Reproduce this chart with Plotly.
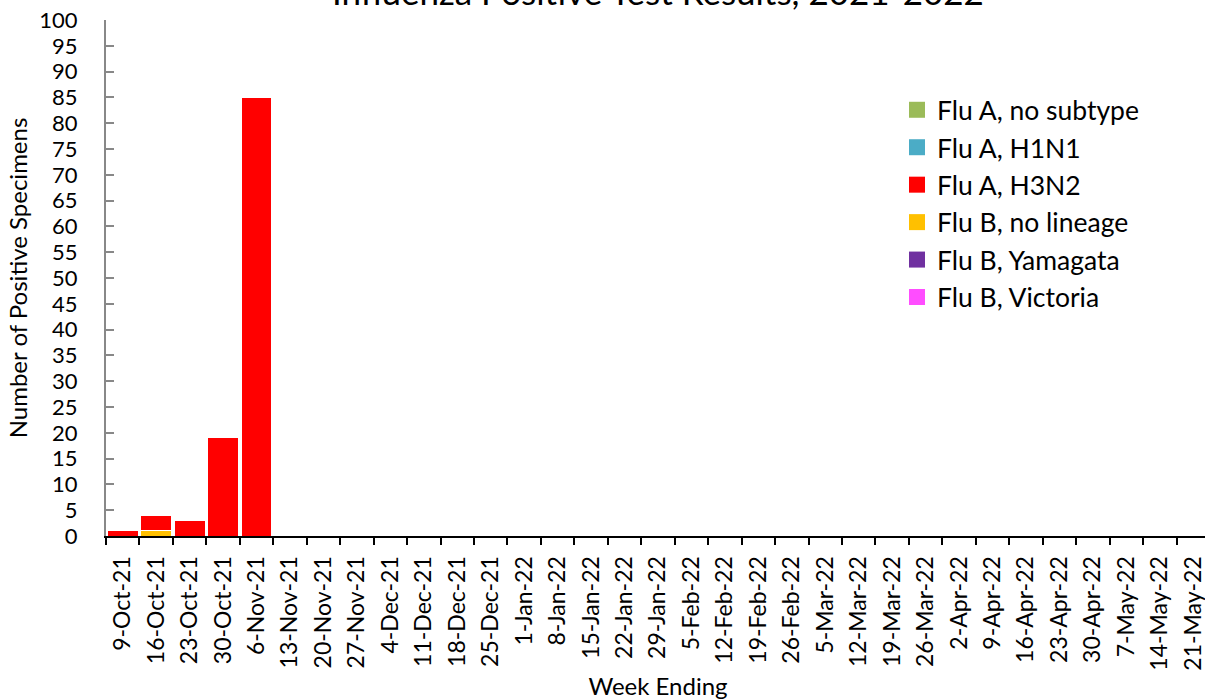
import plotly.graph_objects as go

weeks = ["9-Oct-21", "16-Oct-21", "23-Oct-21", "30-Oct-21", "6-Nov-21", "13-Nov-21", "20-Nov-21",
         "27-Nov-21", "4-Dec-21", "11-Dec-21", "18-Dec-21", "25-Dec-21", "1-Jan-22", "8-Jan-22",
         "15-Jan-22", "22-Jan-22", "29-Jan-22", "5-Feb-22", "12-Feb-22", "19-Feb-22", "26-Feb-22",
         "5-Mar-22", "12-Mar-22", "19-Mar-22", "26-Mar-22", "2-Apr-22", "9-Apr-22", "16-Apr-22",
         "23-Apr-22", "30-Apr-22", "7-May-22", "14-May-22", "21-May-22"]
n = len(weeks)
flu_a_no_subtype = [0] * n
flu_a_h1n1 = [0] * n
flu_a_h3n2 = [1, 3, 3, 19, 85] + [0] * (n - 5)
flu_b_no_lineage = [0, 1, 0, 0, 0] + [0] * (n - 5)
flu_b_yamagata = [0] * n
flu_b_victoria = [0] * n

y_ticks = list(range(0, 101, 5))

series = [
    ("Flu B, no lineage", flu_b_no_lineage, "#FFC000", 4),
    ("Flu A, no subtype", flu_a_no_subtype, "#9BBB59", 1),
    ("Flu A, H1N1", flu_a_h1n1, "#4BACC6", 2),
    ("Flu A, H3N2", flu_a_h3n2, "#FF0000", 3),
    ("Flu B, Yamagata", flu_b_yamagata, "#7030A0", 5),
    ("Flu B, Victoria", flu_b_victoria, "#FF4DFF", 6),
]

FONT = "Lato"
fig = go.Figure()
for name, vals, color, rank in series:
    fig.add_trace(go.Bar(x=weeks, y=vals, name=name, marker_color=color, legendgroup=name,
                         marker_line_color="white", marker_line_width=1, showlegend=False))
    # legend-only proxy with a larger square swatch
    fig.add_trace(go.Scatter(x=[weeks[0]], y=[None], name=name, mode="markers", legendgroup=name,
                             marker=dict(symbol="square", size=16, color=color),
                             legendrank=rank, hoverinfo="skip"))

boundaries = [i - 0.5 for i in range(n + 1)]

fig.update_layout(
    width=1210, height=700,
    barmode="stack", bargap=0.08,
    paper_bgcolor="white", plot_bgcolor="white",
    margin=dict(l=106, r=0, t=20, b=164),
    font=dict(family=FONT, color="black"),
    annotations=[dict(text="Influenza Positive Test Results, 2021-2022", xref="paper", yref="paper",
                      x=0.5, y=1.0 + 29 / 516, xanchor="center", yanchor="middle", showarrow=False,
                      font=dict(size=35, family=FONT, color="black"))],
    xaxis=dict(type="category", categoryorder="array", categoryarray=weeks, range=[-0.5, n - 0.5],
               tickangle=-90, tickfont=dict(size=23), showline=True, linecolor="black", linewidth=2,
               ticks="outside", ticklen=7, tickwidth=2, tickcolor="black", tickson="boundaries",
               ticklabelstandoff=9, ticklabeloverflow="allow",
               showgrid=False, title=dict(text="Week Ending", font=dict(size=24), standoff=12),
               zeroline=False, automargin=False),
    xaxis2=dict(type="linear", range=[-0.5, n - 0.5], overlaying="x", side="bottom", anchor="y",
                showticklabels=False, tickvals=boundaries, ticks="inside", ticklen=7, tickwidth=2,
                tickcolor="black", showgrid=False, showline=False, zeroline=False, automargin=False),
    yaxis=dict(range=[0, 100], tickvals=y_ticks, tickfont=dict(size=22), showline=True,
               linecolor="#888888", linewidth=2, ticks="inside", ticklen=8, tickcolor="#888888",
               tickwidth=2, showgrid=False, zeroline=False, automargin=False, ticklabelstandoff=22,
               ticklabeloverflow="allow",
               title=dict(text="Number of Positive Specimens", font=dict(size=24), standoff=5)),
    legend=dict(x=0.7165, y=0.872, xanchor="left", yanchor="top", font=dict(size=26.5),
                traceorder="normal", tracegroupgap=18, itemsizing="trace", itemwidth=30,
                bgcolor="rgba(0,0,0,0)"),
)

fig.write_html("out.html", config={"displayModeBar": False},
               post_script="document.body.style.margin='0';document.body.style.overflow='hidden';")
